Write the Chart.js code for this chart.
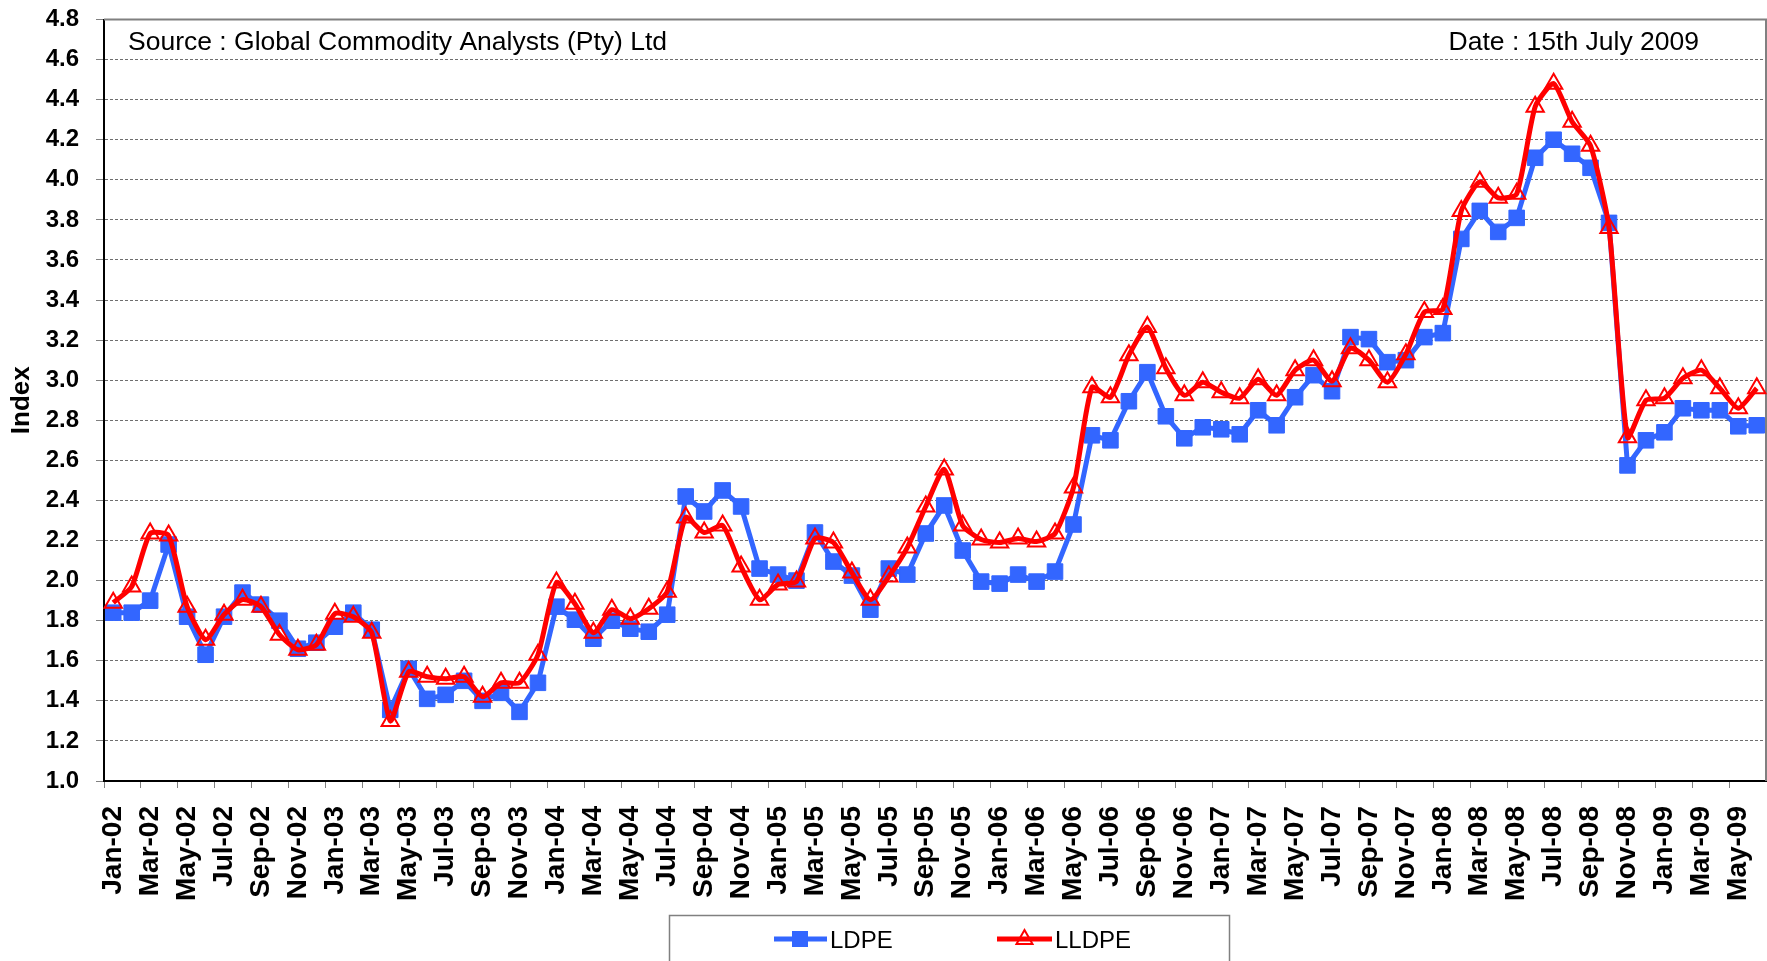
<!doctype html>
<html lang="en">
<head>
<meta charset="UTF-8">
<title>LDPE / LLDPE Index</title>
<script src="https://cdn.jsdelivr.net/npm/chart.js@4.4.1/dist/chart.umd.min.js"></script>
<style>
    html, body { margin: 0; padding: 0; background: #fff; }
    #canvas { display: block; }
</style>
</head>
<body>
<canvas id="canvas" width="1767" height="961"></canvas>
<script>
// months Jan-02 .. Jun-09
const months = [
    'Jan-02','Feb-02','Mar-02','Apr-02','May-02','Jun-02','Jul-02','Aug-02','Sep-02','Oct-02','Nov-02','Dec-02',
    'Jan-03','Feb-03','Mar-03','Apr-03','May-03','Jun-03','Jul-03','Aug-03','Sep-03','Oct-03','Nov-03','Dec-03',
    'Jan-04','Feb-04','Mar-04','Apr-04','May-04','Jun-04','Jul-04','Aug-04','Sep-04','Oct-04','Nov-04','Dec-04',
    'Jan-05','Feb-05','Mar-05','Apr-05','May-05','Jun-05','Jul-05','Aug-05','Sep-05','Oct-05','Nov-05','Dec-05',
    'Jan-06','Feb-06','Mar-06','Apr-06','May-06','Jun-06','Jul-06','Aug-06','Sep-06','Oct-06','Nov-06','Dec-06',
    'Jan-07','Feb-07','Mar-07','Apr-07','May-07','Jun-07','Jul-07','Aug-07','Sep-07','Oct-07','Nov-07','Dec-07',
    'Jan-08','Feb-08','Mar-08','Apr-08','May-08','Jun-08','Jul-08','Aug-08','Sep-08','Oct-08','Nov-08','Dec-08',
    'Jan-09','Feb-09','Mar-09','Apr-09','May-09','Jun-09'
];

const ldpe = [
    1.84, 1.84, 1.90, 2.18, 1.82, 1.63, 1.82, 1.94, 1.88, 1.80, 1.66, 1.69,
    1.77, 1.84, 1.755, 1.355, 1.56, 1.41, 1.43, 1.50, 1.40, 1.44, 1.345, 1.49,
    1.87, 1.805, 1.71, 1.80, 1.76, 1.745, 1.83, 2.42, 2.345, 2.45, 2.37, 2.06,
    2.03, 2.00, 2.24, 2.095, 2.025, 1.855, 2.06, 2.03, 2.235, 2.375, 2.15, 1.995,
    1.985, 2.03, 1.995, 2.045, 2.28, 2.725, 2.70, 2.895, 3.04, 2.82, 2.71, 2.765,
    2.755, 2.73, 2.85, 2.775, 2.915, 3.025, 2.945, 3.215, 3.205, 3.09, 3.10, 3.215,
    3.235, 3.705, 3.845, 3.74, 3.81, 4.11, 4.20, 4.13, 4.06, 3.785, 2.575, 2.70,
    2.74, 2.86, 2.85, 2.85, 2.77, 2.775
];

const lldpe = [
    1.89, 1.97, 2.235, 2.225, 1.87, 1.705, 1.83, 1.905, 1.87, 1.73, 1.655, 1.68,
    1.835, 1.82, 1.74, 1.30, 1.545, 1.52, 1.51, 1.52, 1.42, 1.49, 1.49, 1.63,
    1.99, 1.885, 1.74, 1.855, 1.81, 1.86, 1.945, 2.315, 2.24, 2.275, 2.07, 1.905,
    1.98, 1.995, 2.21, 2.19, 2.04, 1.905, 2.02, 2.165, 2.37, 2.555, 2.275, 2.205,
    2.19, 2.21, 2.195, 2.235, 2.465, 2.965, 2.915, 3.125, 3.265, 3.06, 2.925, 2.99,
    2.94, 2.91, 3.005, 2.925, 3.05, 3.10, 2.995, 3.16, 3.10, 2.99, 3.13, 3.34,
    3.355, 3.845, 3.99, 3.91, 3.93, 4.365, 4.48, 4.29, 4.17, 3.76, 2.715, 2.90,
    2.91, 3.01, 3.05, 2.96, 2.86, 2.96
];

const yTicks = ['1.0','1.2','1.4','1.6','1.8','2.0','2.2','2.4','2.6','2.8',
                '3.0','3.2','3.4','3.6','3.8','4.0','4.2','4.4','4.6','4.8'];

const sourceText = 'Source : Global Commodity Analysts (Pty) Ltd';
const dateText = 'Date : 15th July 2009';

const BLUE = '#3366ff';
const RED = '#ff0000';
const FONT = "'Liberation Sans', Arial, sans-serif";

// frame, notes and the legend box
const decor = {
    id: 'decor',
    beforeDatasetsDraw(chart) {
        const { ctx, chartArea: a } = chart;
        ctx.save();
        ctx.strokeStyle = '#808080';
        ctx.lineWidth = 2;
        ctx.beginPath();
        ctx.moveTo(a.left, a.top);
        ctx.lineTo(a.right, a.top);
        ctx.lineTo(a.right, a.bottom);
        ctx.stroke();

        ctx.fillStyle = '#000';
        ctx.font = '26.5px ' + FONT;
        ctx.textBaseline = 'alphabetic';
        ctx.textAlign = 'left';
        ctx.fillText(sourceText, a.left + 24, 49.5);
        ctx.textAlign = 'right';
        ctx.fillText(dateText, a.right - 67, 49.5);
        ctx.restore();
    },
    afterDraw(chart) {
        const { ctx } = chart;
        ctx.save();
        ctx.fillStyle = '#fff';
        ctx.fillRect(669.5, 915.5, 560, 60);
        ctx.strokeStyle = '#808080';
        ctx.lineWidth = 1.5;
        ctx.strokeRect(669.5, 915.5, 560, 60);

        const y = 939;
        // LDPE
        ctx.strokeStyle = BLUE;
        ctx.lineWidth = 5;
        ctx.beginPath(); ctx.moveTo(774, y); ctx.lineTo(827, y); ctx.stroke();
        ctx.fillStyle = BLUE;
        ctx.fillRect(792, y - 8, 16, 16);
        // LLDPE
        ctx.strokeStyle = RED;
        ctx.beginPath(); ctx.moveTo(997, y); ctx.lineTo(1052, y); ctx.stroke();
        ctx.lineWidth = 2;
        ctx.beginPath();
        ctx.moveTo(1024.5, y - 9);
        ctx.lineTo(1032.5, y + 5);
        ctx.lineTo(1016.5, y + 5);
        ctx.closePath();
        ctx.stroke();

        ctx.fillStyle = '#000';
        ctx.font = '24px ' + FONT;
        ctx.textAlign = 'left';
        ctx.textBaseline = 'alphabetic';
        ctx.fillText('LDPE', 830, y + 9);
        ctx.fillText('LLDPE', 1055, y + 9);
        ctx.restore();
    }
};

new Chart(document.getElementById('canvas'), {
    type: 'line',
    data: {
        labels: months,
        datasets: [
            {
                label: 'LDPE',
                data: ldpe,
                order: 2,
                borderColor: BLUE,
                backgroundColor: BLUE,
                borderWidth: 5,
                tension: 0,
                pointStyle: 'rect',
                pointRadius: 11,
                pointBorderWidth: 1,
                pointBorderColor: BLUE,
                pointBackgroundColor: BLUE
            },
            {
                label: 'LLDPE',
                data: lldpe,
                order: 1,
                borderColor: RED,
                backgroundColor: RED,
                borderWidth: 5,
                tension: 0.2,
                pointStyle: 'triangle',
                pointRadius: 10,
                pointBorderWidth: 2,
                pointBorderColor: RED,
                pointBackgroundColor: 'rgba(0,0,0,0)'
            }
        ]
    },
    options: {
        responsive: false,
        animation: false,
        devicePixelRatio: 1,
        layout: { autoPadding: false, padding: { top: 19.5, right: 1, left: 0, bottom: 0 } },
        plugins: {
            legend: { display: false },
            tooltip: { enabled: false }
        },
        scales: {
            x: {
                offset: true,
                afterFit: (s) => {
                    s.height = 180;
                    s.paddingLeft = 0;
                    s.paddingRight = 0;
                },
                grid: {
                    offset: true,
                    drawOnChartArea: false,
                    drawTicks: true,
                    tickLength: 7,
                    color: (c) => (c.index % 2 === 0 ? '#808080' : 'rgba(0,0,0,0)')
                },
                border: { display: true, color: '#000', width: 2 },
                ticks: {
                    autoSkip: false,
                    maxRotation: 90,
                    minRotation: 90,
                    padding: 18,
                    color: '#000',
                    font: { family: FONT, size: 28, weight: 'bold' },
                    callback: (v, i) => (i % 2 === 0 ? months[i] : '')
                }
            },
            y: {
                min: 1.0,
                max: 4.8,
                afterFit: (s) => {
                    s.width = 104;
                    s.paddingTop = 0;
                    s.paddingBottom = 0;
                },
                afterBuildTicks: (s) => { s.ticks = yTicks.map((t) => ({ value: parseFloat(t) })); },
                grid: {
                    color: '#6e6e6e',
                    lineWidth: 1,
                    tickLength: 8,
                    tickColor: '#808080',
                    tickBorderDash: []
                },
                border: { display: true, color: '#000', width: 2, dash: [3, 2] },
                ticks: {
                    padding: 17,
                    color: '#000',
                    font: { family: FONT, size: 24, weight: 'bold' },
                    callback: (v, i) => yTicks[i]
                },
                title: {
                    display: true,
                    text: 'Index',
                    color: '#000',
                    padding: { top: 6, bottom: 0 },
                    font: { family: FONT, size: 26, weight: 'bold' }
                }
            }
        }
    },
    plugins: [decor]
});
</script>
</body>
</html>
